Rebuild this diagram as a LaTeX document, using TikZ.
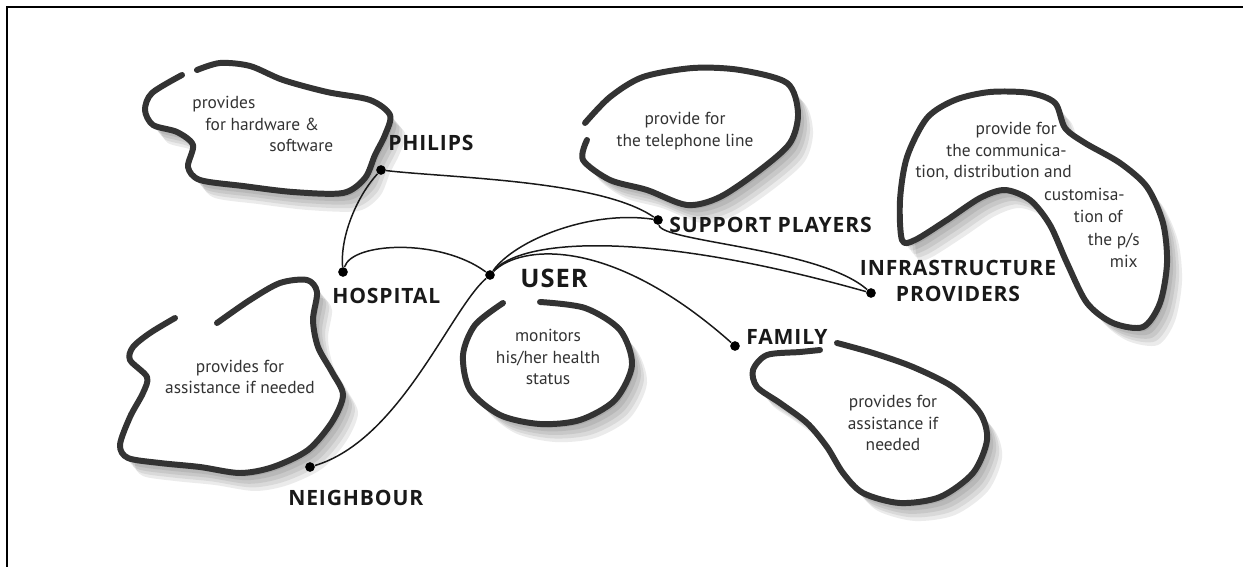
\documentclass[tikz,border=0pt]{standalone}
\usepackage{fontspec}
\setmainfont{PT Sans}
\newfontfamily\labfont[LetterSpace=4]{Open Sans}
\usetikzlibrary{positioning}

% blob with soft shadow, white inside and a brush stroke
\newcommand\drawblob[2][smooth]{%
  \foreach \sh in {3,6,9,12,15}
    \fill[black, opacity=0.08, shift={(\sh,1.2*\sh)}] plot[smooth cycle] coordinates {#2};
  \fill[white] plot[smooth cycle] coordinates {#2};
  \draw[brush] plot[#1] coordinates {#2};
}

\begin{document}
\begin{tikzpicture}[x=0.02cm, y=-0.02cm,
  brush/.style={line width=3.4pt, black!80, line cap=round, line join=round},
  wire/.style={line width=0.85pt, black!90},
  dot/.style={circle, fill=black, inner sep=0pt, minimum size=5.5pt},
  lab/.style={font=\labfont\bfseries\fontsize{12}{14.5}\selectfont, text=black!90, inner sep=0pt},
  txt/.style={font=\fontsize{9.9}{12.3}\selectfont, text=black!80, inner sep=0pt, align=center},
  txtline/.style={txt, text height=6.8pt, text depth=2pt}]
	\useasboundingbox (0,0) rectangle (1243,567);
	\draw[line width=1.1pt] (7,567) -- (7,7) -- (1243,7);

	% blobs
	\drawblob{(197,70) (220,63) (250,66) (283,80) (327,92) (370,100) (390,115) (385,135) (375,155) (365,178) (343,193) (293,192) (243,186) (200,180) (188,167) (193,145) (177,132) (153,125) (145,110) (152,93) (182,75)}
	\drawblob{(585,123) (610,97) (643,77) (693,68) (740,70) (787,83) (798,113) (790,143) (760,170) (720,197) (687,205) (647,190) (610,180) (583,160) (587,140)}
	\drawblob[smooth cycle]{(907,157) (927,118) (955,100) (990,92) (1030,93) (1055,103) (1065,128) (1085,143) (1120,163) (1147,187) (1163,223) (1167,263) (1160,303) (1143,327) (1113,323) (1087,303) (1067,263) (1050,225) (1030,200) (1005,190) (980,198) (947,220) (915,240) (902,240) (900,200)}
	\drawblob{(217,323) (250,300) (280,283) (307,280) (317,292) (313,320) (318,347) (332,372) (343,395) (332,422) (308,450) (273,467) (240,473) (200,467) (160,463) (128,458) (120,445) (130,417) (143,393) (147,377) (130,360) (133,347) (150,333) (175,318)}
	\drawblob{(540,302) (585,308) (620,330) (632,365) (615,400) (580,420) (540,424) (500,415) (470,390) (463,355) (475,325) (503,303)}
	\drawblob{(837,343) (873,353) (913,367) (953,387) (980,413) (987,440) (973,473) (940,497) (900,503) (863,493) (843,473) (827,447) (807,423) (780,403) (757,387) (753,370) (767,355) (800,352) (820,350)}

	% texts in the blobs
	\foreach \t/\x/\y [count=\i] in {provides/192/104, for hardware \&/205/126, software/269/147}
		\node[txtline, anchor=west] (philipstxt\i) at (\x,\y) {\t};
	\node[txt] (supporttxt) at (685,131) {provide for\\the telephone line};
	\foreach \t/\x/\y [count=\i] in {provide for/1057/130, the communica-/1067/152, {tion, distribution and}/1072/173, customisa-/1125/196, tion of/1123/218, {the p/s}/1140/241, mix/1138/263}
		\node[txtline, anchor=east] (infratxt\i) at (\x,\y) {\t};
	\node[txt] (neighbourtxt) at (240,377) {provides for\\assistance if needed};
	\node[txt] (usertxt) at (548,357) {monitors\\his/her health\\status};
	\node[txt] (familytxt) at (893,423) {provides for\\assistance if\\needed};

	% actors
	\draw (381,170) node [dot] (philips) {};
	\draw (658,220) node [dot] (support) {};
	\draw (343,272) node [dot] (hospital) {};
	\draw (490,275) node [dot] (user) {};
	\draw (871,293) node [dot] (infra) {};
	\draw (735,346) node [dot] (family) {};
	\draw (310,467) node [dot] (neighbour) {};

	\node[lab, anchor=west] (lphilips) at (388,143) {PHILIPS};
	\node[lab, anchor=west] (lsupport) at (669,225) {SUPPORT PLAYERS};
	\node[lab, anchor=west] (lhospital) at (332,296) {HOSPITAL};
	\node[lab, anchor=west, font=\labfont\bfseries\fontsize{14.5}{17}\selectfont] (luser) at (520,278) {USER};
	\node[lab, align=center] (linfra) at (958,281) {INFRASTRUCTURE\\PROVIDERS};
	\node[lab, anchor=west] (lfamily) at (746,337) {FAMILY};
	\node[lab, anchor=west] (lneighbour) at (288,498) {NEIGHBOUR};

	% links
	\draw[wire] (philips) .. controls (450,178) and (600,180) .. (support);
	\draw[wire] (philips) .. controls (358,195) and (340,235) .. (hospital);
	\draw[wire] (hospital) .. controls (352,242) and (440,238) .. (user);
	\draw[wire] (user) .. controls (515,240) and (590,210) .. (support);
	\draw[wire] (support) .. controls (662,242) and (820,248) .. (infra);
	\draw[wire] (user) .. controls (520,240) and (640,228) .. (infra);
	\draw[wire] (user) .. controls (520,245) and (610,235) .. (family);
	\draw[wire] (user) .. controls (450,310) and (400,440) .. (neighbour);
\end{tikzpicture}
\end{document}
